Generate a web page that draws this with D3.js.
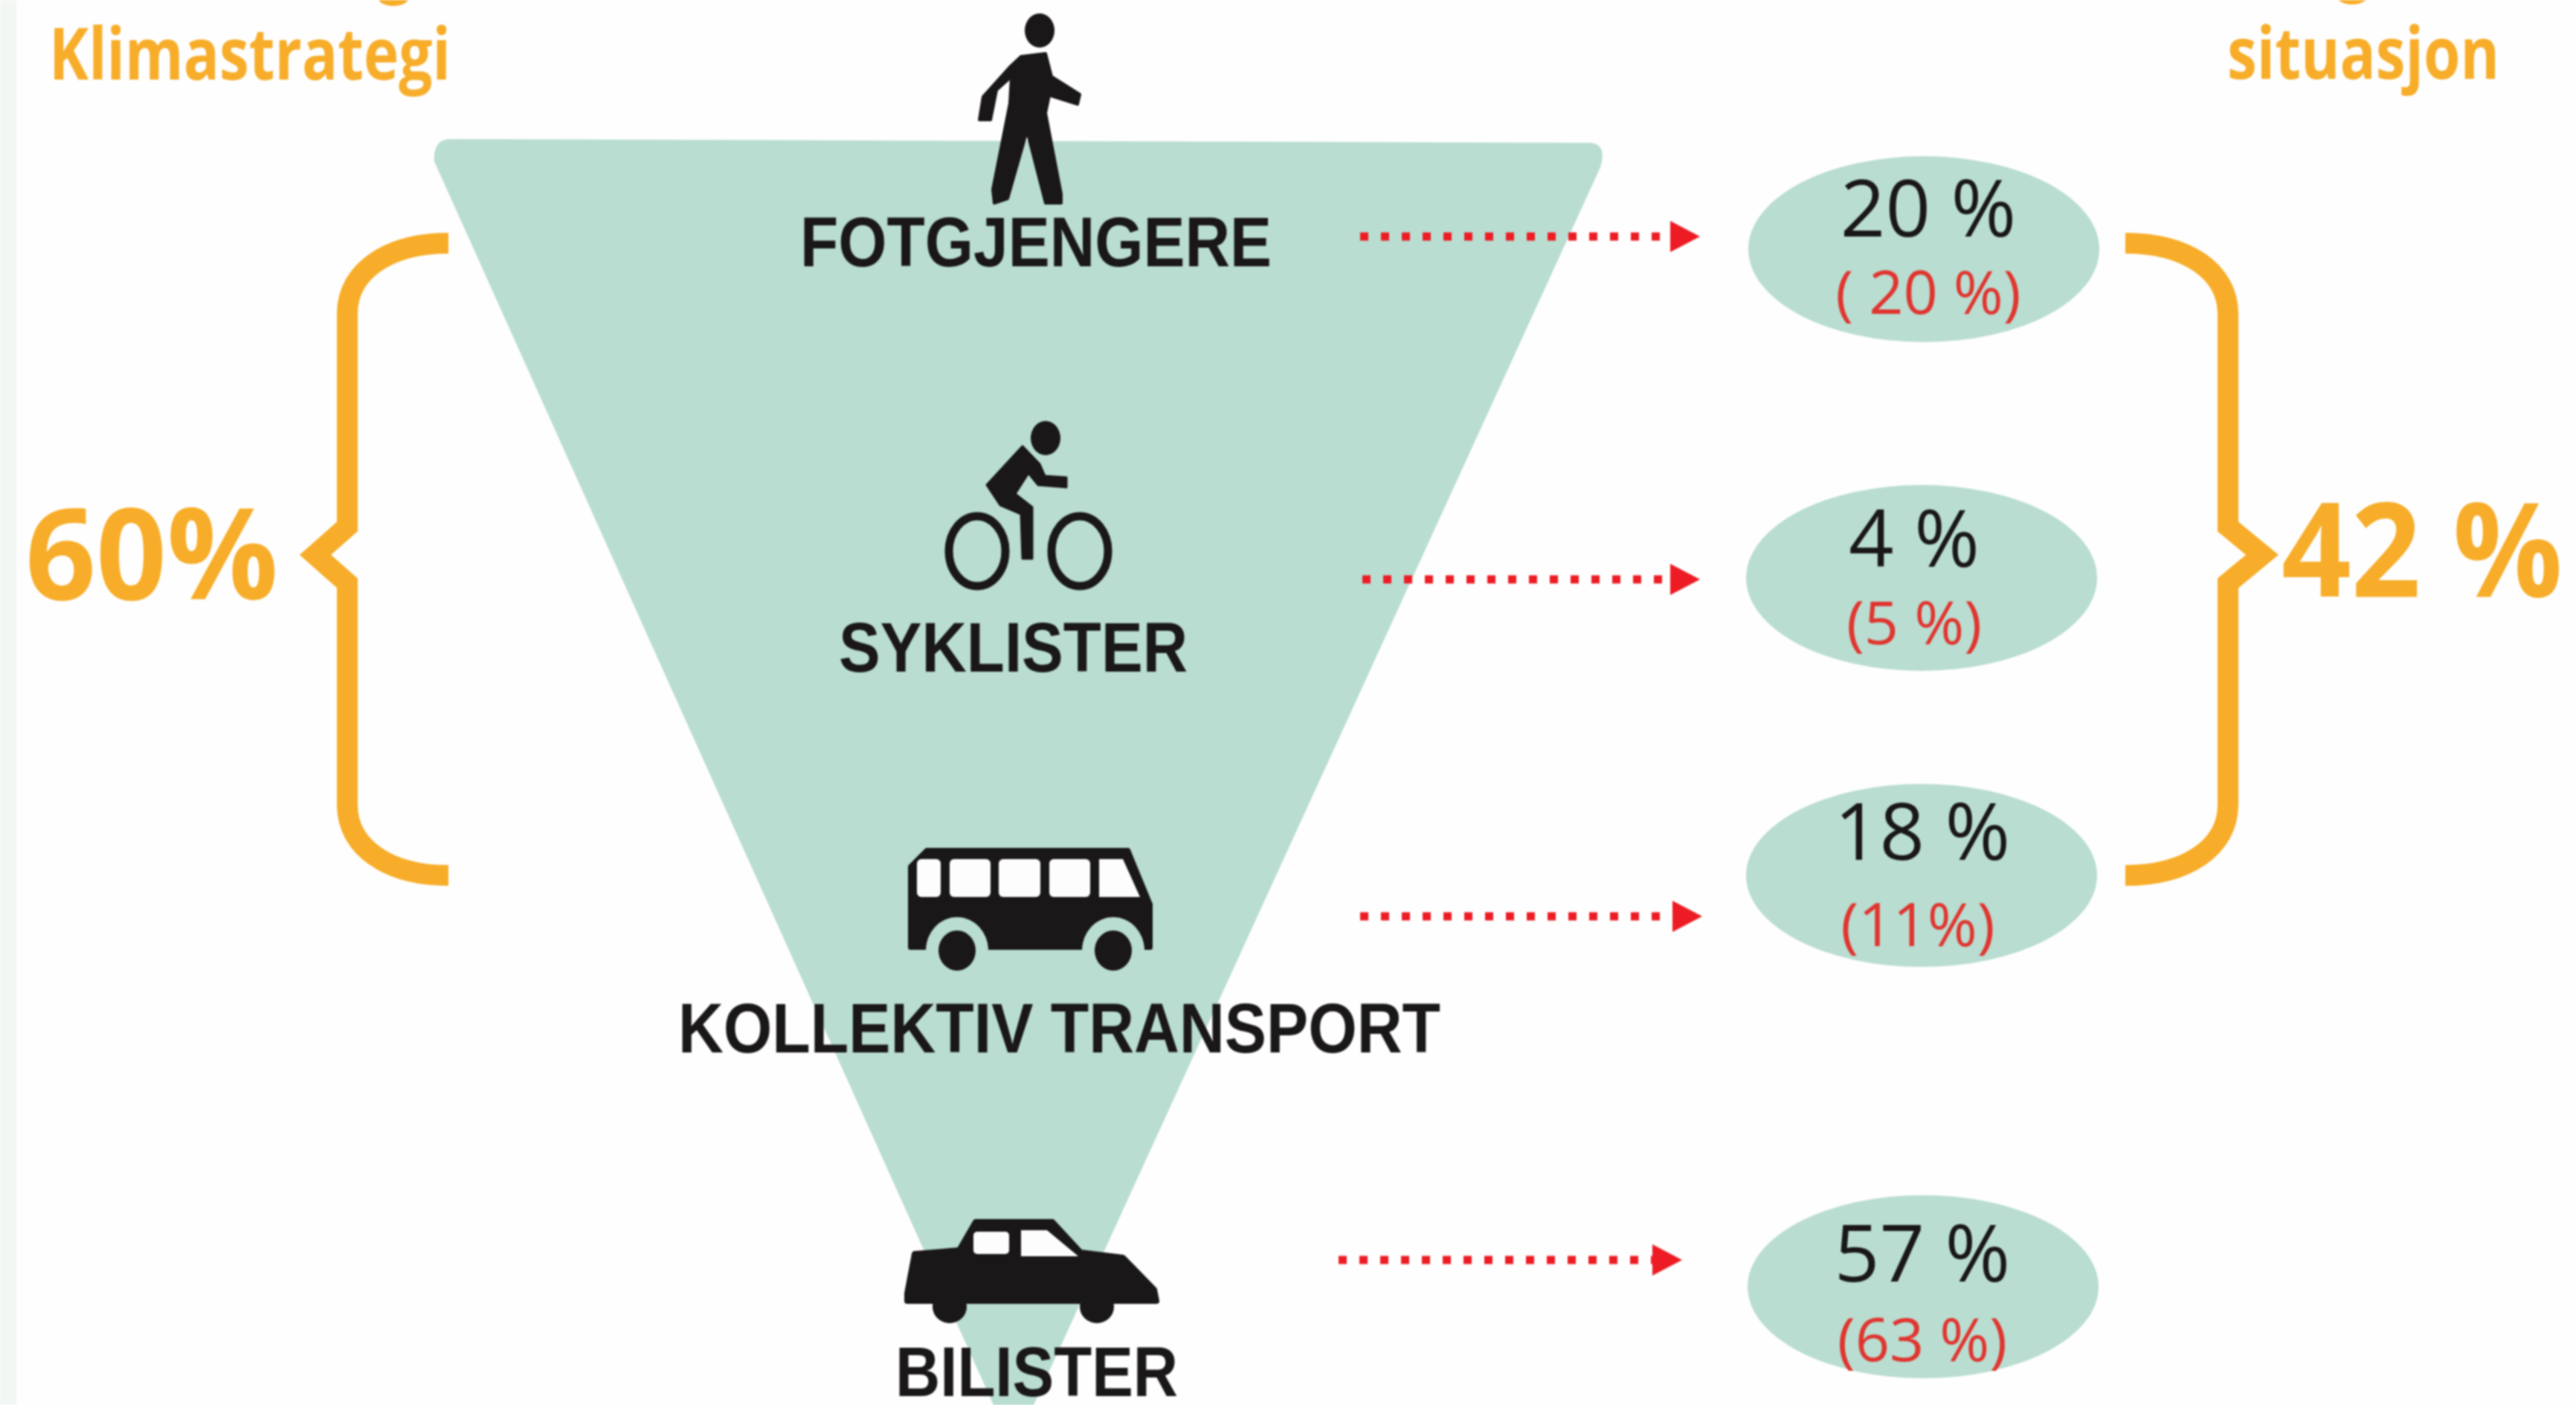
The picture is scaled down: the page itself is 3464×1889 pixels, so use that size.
<!DOCTYPE html>
<html>
<head>
<meta charset="utf-8">
<script src="https://cdn.jsdelivr.net/npm/d3@7"></script>
<style>
  html, body { margin: 0; padding: 0; background: #fefefe; }
  svg { display: block; filter: blur(1.2px); }
</style>
</head>
<body>
<div id="chart"></div>
<script>
// values
var categories = ["FOTGJENGERE", "SYKLISTER", "KOLLEKTIV TRANSPORT", "BILISTER"];
var currentShare = [20, 4, 18, 57];
var previousLabels = ["( 20 %)", "(5 %)", "(11%)", "(63 %)"];
var leftHeader = "Klimastrategi";
var rightHeader = "situasjon";
var leftTotal = "60%";
var rightTotal = "42 %";

var width = 3464, height = 1889;
var teal = "#b9ddd1", orange = "#f7ad29", red = "#ed1c24", ink = "#1a1718", redText = "#e0352f";

// every row has its own spacing in the original, so ordinal scales
function rowScale(range) { return d3.scaleOrdinal().domain(categories).range(range); }
var labelBase = rowScale([358, 903, 1415, 1877]);
var labelLeft = rowScale([1076, 1128, 912, 1204]);
var labelWidth = rowScale([634, 469, 1025, 380]);
var arrowY = rowScale([318, 779, 1232, 1694]);
var arrowStart = rowScale([1829, 1832, 1829, 1800]);
var arrowTip = rowScale([2286, 2286, 2289, 2262]);
var ellipseX = rowScale([2587, 2584, 2584, 2586]);
var ellipseY = rowScale([335, 777, 1177, 1730]);
var ellipseRy = rowScale([125, 125, 123, 123]);
var currentBase = rowScale([318, 762, 1156, 1723]);
var currentX = rowScale([2593, 2574, 2585, 2585]);
var previousBase = rowScale([422, 866, 1272, 1830]);
var previousX = rowScale([2593, 2574, 2579, 2585]);

var svg = d3.select("#chart").append("svg")
  .attr("width", width)
  .attr("height", height)
  .attr("viewBox", "0 0 " + width + " " + height);

svg.append("rect").attr("width", width).attr("height", height).attr("fill", "#fefefe");
svg.append("rect").attr("width", 22).attr("height", height).attr("fill", "#f3f7f4");

// funnel
var leftEdge = d3.scaleLinear().domain([217, 1889]).range([584, 1336]);
var rightEdge = d3.scaleLinear().domain([225, 1889]).range([2152, 1390]);
var funnel = d3.path();
funnel.moveTo(606, 187);
funnel.lineTo(2136, 192);
funnel.quadraticCurveTo(2162, 192, rightEdge(225), 225);
funnel.lineTo(rightEdge(1889), 1889);
funnel.lineTo(leftEdge(1889), 1889);
funnel.lineTo(leftEdge(217), 217);
funnel.quadraticCurveTo(582, 187, 606, 187);
funnel.closePath();
svg.append("path").attr("d", funnel.toString()).attr("fill", teal);

// header lines, the line above is cut by the image edge
[529, 3163].forEach(function (x, i) {
  svg.append("ellipse").attr("cx", x).attr("cy", i ? -4 : -2).attr("rx", 20).attr("ry", 10).attr("fill", orange);
});
svg.append("text").text(leftHeader)
  .attr("x", 66).attr("y", 107)
  .attr("textLength", 540).attr("lengthAdjust", "spacingAndGlyphs")
  .attr("font-family", "Open Sans").attr("font-weight", 700).attr("font-size", 96).attr("fill", orange);
svg.append("text").text(rightHeader)
  .attr("x", 2995).attr("y", 106)
  .attr("textLength", 366).attr("lengthAdjust", "spacingAndGlyphs")
  .attr("font-family", "Open Sans").attr("font-weight", 700).attr("font-size", 96).attr("fill", orange);

// icons, local coordinates around an anchor on the row
function poly(points) { return "M" + points.map(function (p) { return p.join(","); }).join("L") + "Z"; }

function addIcon(x, y) {
  return svg.append("g").attr("transform", "translate(" + x + "," + y + ")").attr("fill", ink);
}

var person = addIcon(1380, 170);
person.append("ellipse").attr("cx", 18).attr("cy", -129).attr("rx", 20).attr("ry", 23);
person.append("path")
  .attr("d", poly([[-7,-94],[26,-98],[34,-67],[72,-43],[69,-30],[31,-42],[26,-18],[47,91],[47,103],[26,103],[1,6],[-25,97],[-43,103],[-45,85],[-22,-31],[-20,-67],[-40,-49],[-48,-9],[-63,-9],[-58,-40],[-22,-80]]))
  .attr("stroke", ink).attr("stroke-width", 4).attr("stroke-linejoin", "round");

var cyclist = addIcon(1383, 741);
cyclist.append("ellipse").attr("cx", 23).attr("cy", -152).attr("rx", 20).attr("ry", 23);
cyclist.append("path")
  .attr("d", poly([[-56,-89],[-8,-141],[15,-117],[22,-101],[51,-99],[51,-86],[13,-89],[0,-105],[-18,-77],[5,-59],[5,10],[-8,10],[-10,-50],[-38,-62]]))
  .attr("stroke", ink).attr("stroke-width", 3).attr("stroke-linejoin", "round");
[-69, 69].forEach(function (dx) {
  cyclist.append("ellipse").attr("cx", dx).attr("cy", 0).attr("rx", 38).attr("ry", 47)
    .attr("fill", "none").attr("stroke", ink).attr("stroke-width", 11);
});

var bus = addIcon(1392, 1274);
bus.append("path")
  .attr("d", poly([[-168,0],[-168,-109],[-146,-131],[125,-131],[155,-58],[155,0]]))
  .attr("stroke", ink).attr("stroke-width", 6).attr("stroke-linejoin", "round");
[-105, 105].forEach(function (dx) {
  bus.append("ellipse").attr("cx", dx).attr("cy", 4).attr("rx", 42).attr("ry", 45).attr("fill", teal);
  bus.append("ellipse").attr("cx", dx).attr("cy", 4).attr("rx", 25).attr("ry", 27);
});
[[-159,-127],[-115,-60],[-49,7],[19,74]].forEach(function (w) {
  bus.append("rect").attr("x", w[0]).attr("y", -119).attr("width", w[1] - w[0]).attr("height", 51)
    .attr("rx", 6).attr("fill", "#fcfdfc");
});
bus.append("path").attr("d", poly([[86,-119],[118,-119],[141,-68],[86,-68]])).attr("fill", "#fcfdfc");

var car = addIcon(1387, 1749);
car.append("path")
  .attr("d", poly([[-167,-10],[-157,-63],[-97,-68],[-75,-106],[28,-106],[66,-65],[123,-58],[165,-15],[168,0],[-167,0]]))
  .attr("stroke", ink).attr("stroke-width", 8).attr("stroke-linejoin", "round");
[-110, 88].forEach(function (dx) {
  car.append("ellipse").attr("cx", dx).attr("cy", 8).attr("rx", 23).attr("ry", 22);
});
car.append("rect").attr("x", -78).attr("y", -93).attr("width", 48).attr("height", 30).attr("rx", 5).attr("fill", "#fcfdfc");
car.append("path").attr("d", poly([[-14,-95],[21,-95],[63,-60],[-14,-60]])).attr("fill", "#fcfdfc");

// row labels
svg.selectAll("text.cat")
  .data(categories)
  .enter()
  .append("text")
    .attr("class", "cat")
    .text(function (d) { return d; })
    .attr("x", function (d) { return labelLeft(d); })
    .attr("y", function (d) { return labelBase(d); })
    .attr("textLength", function (d) { return labelWidth(d); })
    .attr("lengthAdjust", "spacingAndGlyphs")
    .attr("font-family", "Liberation Sans")
    .attr("font-weight", 700)
    .attr("font-size", 94)
    .attr("fill", ink);

// dotted arrows
svg.selectAll("line.arrow")
  .data(categories)
  .enter()
  .append("line")
    .attr("class", "arrow")
    .attr("x1", function (d) { return arrowStart(d); })
    .attr("x2", function (d) { return arrowTip(d) - 34; })
    .attr("y1", function (d) { return arrowY(d); })
    .attr("y2", function (d) { return arrowY(d); })
    .attr("stroke", red)
    .attr("stroke-width", 11)
    .attr("stroke-dasharray", "11 17");
svg.selectAll("path.head")
  .data(categories)
  .enter()
  .append("path")
    .attr("class", "head")
    .attr("d", function (d) {
      var t = arrowTip(d), y = arrowY(d);
      return poly([[t - 40, y - 21], [t, y], [t - 40, y + 21]]);
    })
    .attr("fill", red);

// share ellipses
svg.selectAll("ellipse.share")
  .data(categories)
  .enter()
  .append("ellipse")
    .attr("class", "share")
    .attr("cx", function (d) { return ellipseX(d); })
    .attr("cy", function (d) { return ellipseY(d); })
    .attr("rx", 236)
    .attr("ry", function (d) { return ellipseRy(d); })
    .attr("fill", teal);

svg.selectAll("text.current")
  .data(categories)
  .enter()
  .append("text")
    .attr("class", "current")
    .text(function (d, i) { return currentShare[i] + " %"; })
    .attr("x", function (d) { return currentX(d); })
    .attr("y", function (d) { return currentBase(d); })
    .attr("text-anchor", "middle")
    .attr("font-family", "Open Sans")
    .attr("font-size", 106)
    .attr("fill", ink);

svg.selectAll("text.previous")
  .data(categories)
  .enter()
  .append("text")
    .attr("class", "previous")
    .text(function (d, i) { return previousLabels[i]; })
    .attr("x", function (d) { return previousX(d); })
    .attr("y", function (d) { return previousBase(d); })
    .attr("text-anchor", "middle")
    .attr("font-family", "Open Sans")
    .attr("font-size", 81)
    .attr("fill", redText);

// curly braces around the first three rows
function brace(endX, spineX, tipX) {
  var top = 327, bottom = 1177, tipY = 746, bend = 95;
  var p = d3.path();
  p.moveTo(endX, top);
  p.bezierCurveTo(spineX + (endX - spineX) * 0.4, top, spineX, top + bend * 0.4, spineX, top + bend);
  p.lineTo(spineX, tipY - 38);
  p.lineTo(tipX, tipY);
  p.lineTo(spineX, tipY + 38);
  p.lineTo(spineX, bottom - bend);
  p.bezierCurveTo(spineX, bottom - bend * 0.4, spineX + (endX - spineX) * 0.4, bottom, endX, bottom);
  return p.toString();
}
[[603, 467, 424], [2858, 2996, 3042]].forEach(function (b) {
  svg.append("path")
    .attr("d", brace(b[0], b[1], b[2]))
    .attr("fill", "none")
    .attr("stroke", orange)
    .attr("stroke-width", 28);
});

svg.append("text").text(leftTotal)
  .attr("x", 34).attr("y", 806)
  .attr("textLength", 340).attr("lengthAdjust", "spacingAndGlyphs")
  .attr("font-family", "Open Sans").attr("font-weight", 700).attr("font-size", 170).attr("fill", orange);
svg.append("text").text(rightTotal)
  .attr("x", 3068).attr("y", 802)
  .attr("textLength", 378).attr("lengthAdjust", "spacingAndGlyphs")
  .attr("font-family", "Open Sans").attr("font-weight", 700).attr("font-size", 176).attr("fill", orange);
</script>
</body>
</html>
